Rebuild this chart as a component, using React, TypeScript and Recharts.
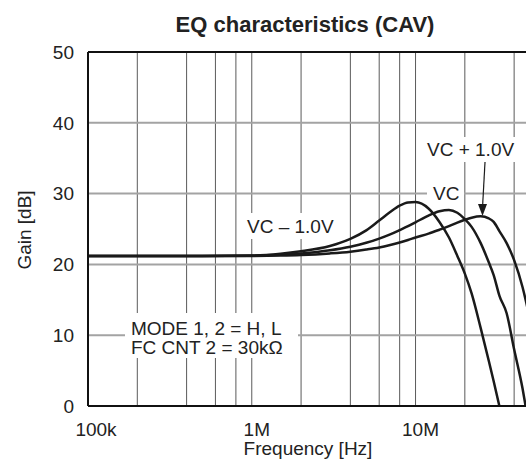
import React from 'react';
import {
  CartesianGrid,
  Line,
  LineChart,
  ReferenceLine,
  XAxis,
  YAxis,
} from 'recharts';

// frequency points [Hz] shared by the three curves
const FREQ = [
  1e5, 2e5, 5e5, 1e6, 1.5e6, 2e6, 3e6, 4e6, 5e6, 6e6, 7e6, 8e6, 9e6, 10e6,
  12e6, 14e6, 16e6, 18e6, 20e6, 22e6, 25e6, 28e6, 30e6, 32.5e6, 36e6, 40e6,
  45e6, 47e6, 50e6,
];

// gain [dB]
const VC_MINUS = [
  21.2, 21.2, 21.2, 21.25, 21.5, 21.85, 22.6, 23.6, 24.8, 26.2, 27.4, 28.3,
  28.75, 28.8, 27.9, 26.0, 23.8, 21.2, 18.7, 15.9, 11.0, 6.4, 3.5, 0,
  null, null, null, null, null,
];
const VC = [
  21.2, 21.2, 21.2, 21.22, 21.35, 21.55, 22.0, 22.5, 23.05, 23.65, 24.25, 24.85,
  25.4, 25.95, 26.9, 27.5, 27.7, 27.3, 26.4, 25.3, 23.0, 20.3, 18.5, 15.6,
  13.1, 8.0, 2.5, 0, null,
];
const VC_PLUS = [
  21.2, 21.2, 21.2, 21.2, 21.24, 21.32, 21.55, 21.8, 22.1, 22.4, 22.75, 23.1,
  23.45, 23.8, 24.35, 24.9, 25.4, 25.9, 26.3, 26.6, 26.8, 26.5, 26.0, 24.7,
  23.0, 20.6, 16.8, 15.0, 12.2,
];

const X_GRID = [
  1e5, 2e5, 4e5, 6e5, 8e5, 1e6, 2e6, 4e6, 6e6, 8e6, 1e7, 2e7, 4e7,
];
const X_LABELS: Record<number, string> = { 1e5: '100k', 1e6: '1M', 1e7: '10M' };
const Y_TICKS = [0, 10, 20, 30, 40, 50];

const data = FREQ.map((f, i) => ({
  f,
  minus: VC_MINUS[i],
  vc: VC[i],
  plus: VC_PLUS[i],
}));

const FONT = '"Liberation Sans", Arial, sans-serif';
const INK = '#222';

const renderXTick = (props: any) => {
  const { x, payload } = props;
  const lbl = X_LABELS[payload.value];
  if (!lbl) return <g />;
  const dx = payload.value === 1e5 ? 8 : 5;
  return (
    <text x={x + dx} y={436} textAnchor="middle" fontSize={19} fontFamily={FONT} fill={INK}>
      {lbl}
    </text>
  );
};

const renderYTick = (props: any) => {
  const { y, payload } = props;
  return (
    <text x={74} y={y} dy="0.36em" textAnchor="end" fontSize={19} fontFamily={FONT} fill={INK}>
      {payload.value}
    </text>
  );
};

export default function App() {
  const txt = { fontSize: 19, fontFamily: FONT, fill: INK };
  return (
    <div
      style={{
        position: 'absolute',
        left: 0,
        top: 0,
        width: 526,
        height: 466,
        overflow: 'hidden',
        background: '#fff',
      }}
    >
      <LineChart
        width={540}
        height={466}
        data={data}
        margin={{ top: 52, right: 10, left: 87, bottom: 59 }}
      >
        <CartesianGrid horizontal={false} stroke="#5a5a5a" strokeWidth={1} />
        <CartesianGrid vertical={false} stroke="#a3a3a3" strokeWidth={2} />
        <XAxis
          dataKey="f"
          type="number"
          scale="log"
          domain={[1e5, 5e7]}
          ticks={X_GRID}
          interval={0}
          allowDataOverflow
          height={1}
          tickLine={false}
          tick={renderXTick}
          axisLine={{ stroke: '#111', strokeWidth: 2 }}
        />
        <YAxis
          type="number"
          domain={[0, 50]}
          ticks={Y_TICKS}
          interval={0}
          allowDataOverflow
          width={1}
          tickLine={false}
          tick={renderYTick}
          axisLine={{ stroke: '#111', strokeWidth: 2 }}
        />
        <ReferenceLine y={50} stroke="#111" strokeWidth={2} />
        <Line type="monotone" dataKey="minus" stroke="#1a1a1a" strokeWidth={2.5} dot={false} isAnimationActive={false} />
        <Line type="monotone" dataKey="vc" stroke="#1a1a1a" strokeWidth={2.5} dot={false} isAnimationActive={false} />
        <Line type="monotone" dataKey="plus" stroke="#1a1a1a" strokeWidth={2.5} dot={false} isAnimationActive={false} />
      </LineChart>

      <svg
        width={526}
        height={466}
        style={{ position: 'absolute', left: 0, top: 0, pointerEvents: 'none' }}
      >
        <text x={305} y={32} textAnchor="middle" fontSize={22} fontWeight="bold" fontFamily={FONT} fill={INK}>
          EQ characteristics (CAV)
        </text>
        <text
          x={31}
          y={230}
          textAnchor="middle"
          transform="rotate(-90 31 230)"
          {...txt}
        >
          Gain [dB]
        </text>
        <text x={308} y={455} textAnchor="middle" {...txt}>
          Frequency [Hz]
        </text>

        {/* curve labels */}
        <rect x={243} y={213} width={98} height={26} fill="#fff" />
        <text x={247} y={233} {...txt}>VC – 1.0V</text>

        <rect x={427} y={183} width={37} height={20} fill="#fff" />
        <text x={433} y={200} {...txt}>VC</text>

        <rect x={422} y={137} width={101} height={25} fill="#fff" />
        <text x={427} y={156} {...txt}>VC + 1.0V</text>
        <line x1={485} y1={162} x2={482.6} y2={206} stroke="#1a1a1a" strokeWidth={1.2} />
        <polygon points="478,204 487,204 482.5,216" fill="#1a1a1a" />

        {/* conditions */}
        <rect x={125} y={313} width={173} height={45} fill="#fff" />
        <text x={131} y={335} {...txt}>MODE 1, 2 = H, L</text>
        <text x={131} y={353.5} {...txt}>FC CNT 2 = 30kΩ</text>
      </svg>
    </div>
  );
}
